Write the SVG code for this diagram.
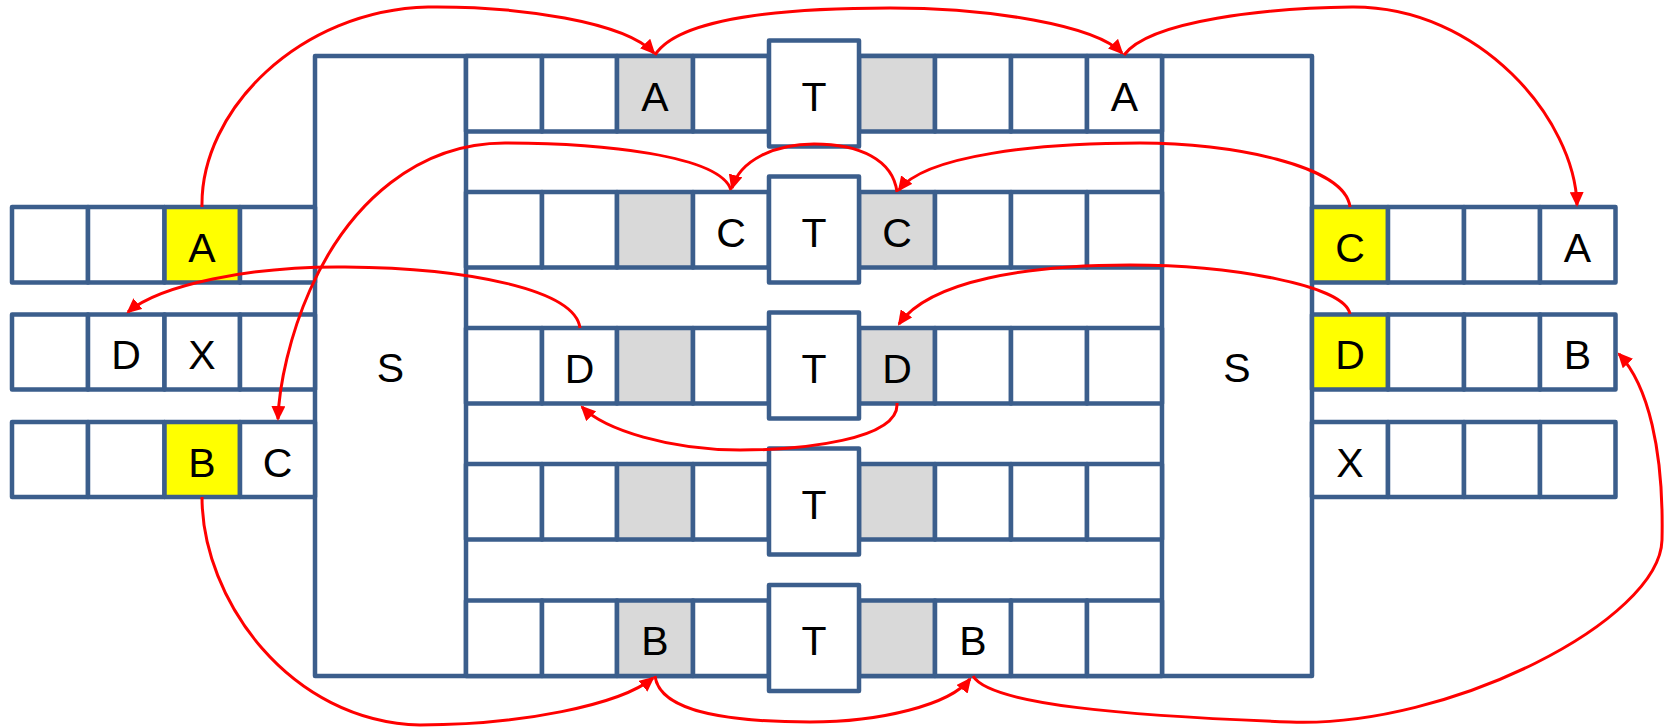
<svg xmlns="http://www.w3.org/2000/svg" width="1669" height="728" viewBox="0 0 1669 728">
<defs>
<style>
.c{fill:#fff;stroke:#3B5E8C;stroke-width:4.5;stroke-linejoin:round}
.g{fill:#D9D9D9}
.y{fill:#FFFF00}
.ln{stroke:#3B5E8C;stroke-width:4.5;fill:none}
text{font-family:"Liberation Sans",Arial,sans-serif;font-size:41px;fill:#000;text-anchor:middle}
.a{fill:none;stroke:#FF0000;stroke-width:3;marker-end:url(#ah)}
</style>
<marker id="ah" markerUnits="userSpaceOnUse" markerWidth="16" markerHeight="14" refX="13" refY="7" orient="auto">
<path d="M0,0 L15,7 L0,14 Z" fill="#FF0000"/>
</marker>
</defs>
<rect width="1669" height="728" fill="#fff"/>

<g id="frame">
<rect class="c" x="315" y="56" width="997" height="620"/>
<line class="ln" x1="466" y1="56" x2="466" y2="676"/>
<line class="ln" x1="1162" y1="56" x2="1162" y2="676"/>
</g>
<g id="s-left"><text x="390.5" y="382">S</text></g>
<g id="s-right"><text x="1237" y="382">S</text></g>

<g id="row1">
<rect class="c" x="466" y="56" width="76" height="75.5"/>
<rect class="c" x="542" y="56" width="75" height="75.5"/>
<rect class="c g" x="617" y="56" width="76" height="75.5"/>
<rect class="c" x="693" y="56" width="76" height="75.5"/>
<rect class="c" x="769" y="56" width="90" height="75.5"/>
<rect class="c g" x="859" y="56" width="76" height="75.5"/>
<rect class="c" x="935" y="56" width="76" height="75.5"/>
<rect class="c" x="1011" y="56" width="76" height="75.5"/>
<rect class="c" x="1087" y="56" width="75" height="75.5"/>
<text x="655" y="110.5">A</text>
<text x="1124.5" y="110.5">A</text>
</g>
<g id="row2">
<rect class="c" x="466" y="192" width="76" height="75.5"/>
<rect class="c" x="542" y="192" width="75" height="75.5"/>
<rect class="c g" x="617" y="192" width="76" height="75.5"/>
<rect class="c" x="693" y="192" width="76" height="75.5"/>
<rect class="c" x="769" y="192" width="90" height="75.5"/>
<rect class="c g" x="859" y="192" width="76" height="75.5"/>
<rect class="c" x="935" y="192" width="76" height="75.5"/>
<rect class="c" x="1011" y="192" width="76" height="75.5"/>
<rect class="c" x="1087" y="192" width="75" height="75.5"/>
<text x="731" y="246.5">C</text>
<text x="897" y="246.5">C</text>
</g>
<g id="row3">
<rect class="c" x="466" y="328" width="76" height="75.5"/>
<rect class="c" x="542" y="328" width="75" height="75.5"/>
<rect class="c g" x="617" y="328" width="76" height="75.5"/>
<rect class="c" x="693" y="328" width="76" height="75.5"/>
<rect class="c" x="769" y="328" width="90" height="75.5"/>
<rect class="c g" x="859" y="328" width="76" height="75.5"/>
<rect class="c" x="935" y="328" width="76" height="75.5"/>
<rect class="c" x="1011" y="328" width="76" height="75.5"/>
<rect class="c" x="1087" y="328" width="75" height="75.5"/>
<text x="579.5" y="382.5">D</text>
<text x="897" y="382.5">D</text>
</g>
<g id="row4">
<rect class="c" x="466" y="464" width="76" height="75.5"/>
<rect class="c" x="542" y="464" width="75" height="75.5"/>
<rect class="c g" x="617" y="464" width="76" height="75.5"/>
<rect class="c" x="693" y="464" width="76" height="75.5"/>
<rect class="c" x="769" y="464" width="90" height="75.5"/>
<rect class="c g" x="859" y="464" width="76" height="75.5"/>
<rect class="c" x="935" y="464" width="76" height="75.5"/>
<rect class="c" x="1011" y="464" width="76" height="75.5"/>
<rect class="c" x="1087" y="464" width="75" height="75.5"/>
</g>
<g id="row5">
<rect class="c" x="466" y="600.5" width="76" height="75.5"/>
<rect class="c" x="542" y="600.5" width="75" height="75.5"/>
<rect class="c g" x="617" y="600.5" width="76" height="75.5"/>
<rect class="c" x="693" y="600.5" width="76" height="75.5"/>
<rect class="c" x="769" y="600.5" width="90" height="75.5"/>
<rect class="c g" x="859" y="600.5" width="76" height="75.5"/>
<rect class="c" x="935" y="600.5" width="76" height="75.5"/>
<rect class="c" x="1011" y="600.5" width="76" height="75.5"/>
<rect class="c" x="1087" y="600.5" width="75" height="75.5"/>
<text x="655" y="655">B</text>
<text x="973" y="655">B</text>
</g>

<g id="t1"><rect class="c" x="769" y="40.5" width="90" height="106"/><text x="814" y="110.5">T</text></g>
<g id="t2"><rect class="c" x="769" y="176.5" width="90" height="106"/><text x="814" y="246.5">T</text></g>
<g id="t3"><rect class="c" x="769" y="312.5" width="90" height="106"/><text x="814" y="382.5">T</text></g>
<g id="t4"><rect class="c" x="769" y="448.5" width="90" height="106"/><text x="814" y="518.5">T</text></g>
<g id="t5"><rect class="c" x="769" y="585" width="90" height="106"/><text x="814" y="655">T</text></g>

<g id="left1">
<rect class="c" x="12" y="207" width="76" height="75.5"/>
<rect class="c" x="88" y="207" width="76.5" height="75.5"/>
<rect class="c y" x="164.5" y="207" width="75.5" height="75.5"/>
<rect class="c" x="240" y="207" width="75" height="75.5"/>
<text x="202" y="261.5">A</text>
</g>
<g id="left2">
<rect class="c" x="12" y="314.5" width="76" height="75"/>
<rect class="c" x="88" y="314.5" width="76.5" height="75"/>
<rect class="c" x="164.5" y="314.5" width="75.5" height="75"/>
<rect class="c" x="240" y="314.5" width="75" height="75"/>
<text x="126" y="368.5">D</text>
<text x="202" y="368.5">X</text>
</g>
<g id="left3">
<rect class="c" x="12" y="422" width="76" height="75"/>
<rect class="c" x="88" y="422" width="76.5" height="75"/>
<rect class="c y" x="164.5" y="422" width="75.5" height="75"/>
<rect class="c" x="240" y="422" width="75" height="75"/>
<text x="202" y="476.5">B</text>
<text x="277.5" y="476.5">C</text>
</g>

<g id="right1">
<rect class="c y" x="1312" y="207" width="76" height="75.5"/>
<rect class="c" x="1388" y="207" width="76" height="75.5"/>
<rect class="c" x="1464" y="207" width="76" height="75.5"/>
<rect class="c" x="1540" y="207" width="75.5" height="75.5"/>
<text x="1350" y="261.5">C</text>
<text x="1577.5" y="261.5">A</text>
</g>
<g id="right2">
<rect class="c y" x="1312" y="314.5" width="76" height="75"/>
<rect class="c" x="1388" y="314.5" width="76" height="75"/>
<rect class="c" x="1464" y="314.5" width="76" height="75"/>
<rect class="c" x="1540" y="314.5" width="75.5" height="75"/>
<text x="1350" y="368.5">D</text>
<text x="1577.5" y="368.5">B</text>
</g>
<g id="right3">
<rect class="c" x="1312" y="422" width="76" height="75"/>
<rect class="c" x="1388" y="422" width="76" height="75"/>
<rect class="c" x="1464" y="422" width="76" height="75"/>
<rect class="c" x="1540" y="422" width="75.5" height="75"/>
<text x="1350" y="476.5">X</text>
</g>

<g id="connectors">
<path class="a" d="M202,207 C200,110 300,10 428,7 C520,6 625,22 654,53"/>
<path class="a" d="M655,55 C680,15 800,8 890,8 C990,8 1095,25 1122,53"/>
<path class="a" d="M1124,55 C1150,20 1270,8 1352,7 C1480,6 1575,120 1577,205"/>
<path class="a" d="M1350,207 C1345,165 1230,143 1140,143 C1040,143 925,155 899,190"/>
<path class="a" d="M897,192 C893,160 860,144 814,144 C775,144 740,160 732,188"/>
<path class="a" d="M731,190 C720,155 600,143 505,143 C420,143 350,200 310,290 C290,335 279,385 278,419"/>
<path class="a" d="M580,328 C575,290 470,268 345,267 C250,266 160,285 128,312"/>
<path class="a" d="M1350,314 C1345,285 1230,265 1130,265 C1030,265 930,280 899,324"/>
<path class="a" d="M897,403 C900,440 800,450 740,450 C670,450 605,430 582,407"/>
<path class="a" d="M202,497 C202,600 290,722 420,725 C520,725 620,705 653,678"/>
<path class="a" d="M655,676 C660,715 740,722 810,722 C880,722 950,705 970,679"/>
<path class="a" d="M973,676 C990,705 1130,716 1290,722 C1450,728 1660,620 1662,540 C1664,450 1648,385 1619,354"/>
</g>
</svg>
